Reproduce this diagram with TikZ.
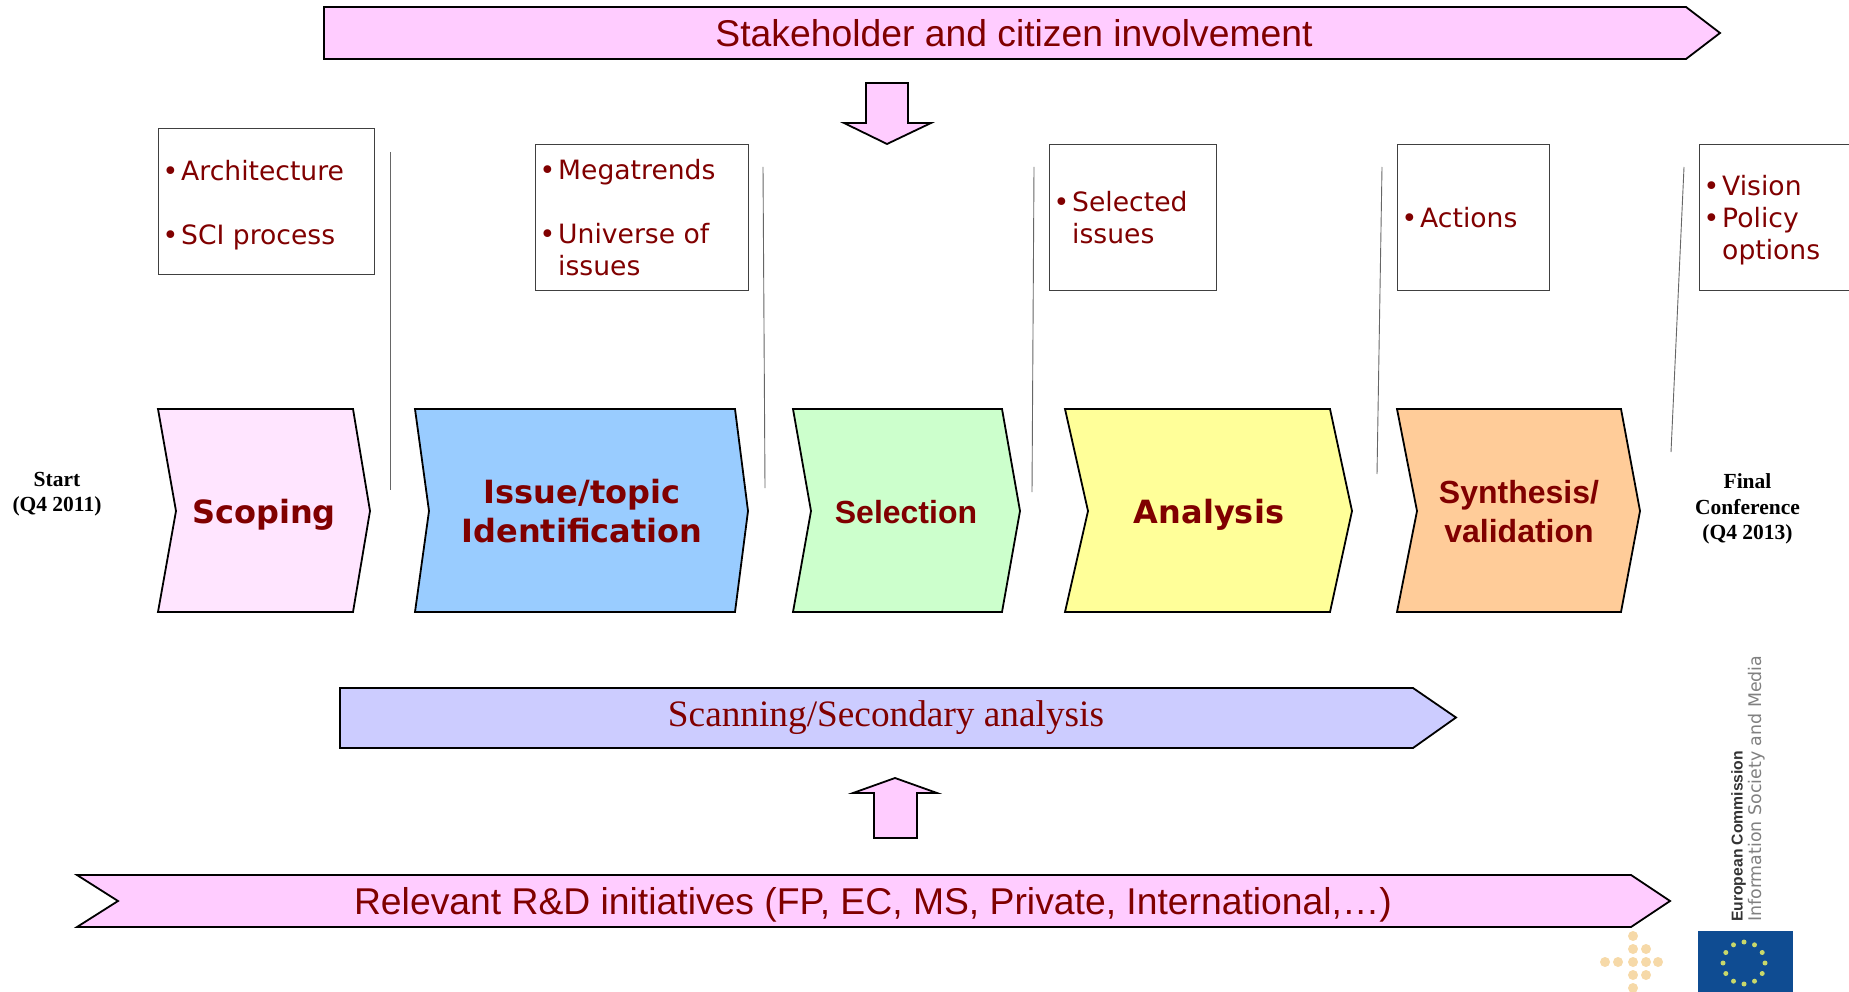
\documentclass[tikz,border=0pt]{standalone}
\usepackage{fontspec}
\setmainfont{Liberation Sans}
\newfontfamily\wideface{DejaVu Sans}
\newfontfamily\timesface{Liberation Serif}

\definecolor{clrtext}{HTML}{800000}
\definecolor{clrarrow}{HTML}{FFCCFF}
\definecolor{clrscoping}{HTML}{FFE5FF}
\definecolor{clrissue}{HTML}{99CCFF}
\definecolor{clrselection}{HTML}{CCFFCC}
\definecolor{clranalysis}{HTML}{FFFF99}
\definecolor{clrsynthesis}{HTML}{FFCC99}
\definecolor{clrscanning}{HTML}{CCCCFF}
\definecolor{clrflag}{HTML}{0F4C92}
\definecolor{clrstar}{HTML}{C8D86A}
\definecolor{clrdot}{HTML}{F6D9A8}

\tikzset{
	blockshape/.style={draw=black,line width=1.8pt,line join=miter},
	bartext/.style={text=clrtext,font=\fontsize{37.3}{40}\selectfont},
	steptext/.style={text=clrtext,align=center,yshift=-1pt,font=\fontsize{32}{39}\selectfont\bfseries},
	widetext/.style={text=clrtext,align=center,text depth=0pt,font=\fontsize{32}{39}\selectfont\wideface\bfseries},
	infobox/.style={draw=black!75,line width=1pt,anchor=north west},
	infotext/.style={anchor=west,inner xsep=0pt,inner ysep=0pt,align=left,
		text=clrtext,font=\fontsize{26.6}{32}\selectfont\wideface},
	datelabel/.style={align=center,font=\fontsize{21.5}{25.5}\selectfont\timesface\bfseries},
	divider/.style={draw=black!60,line width=0.9pt},
	logotext/.style={rotate=90,anchor=south west,inner sep=0pt},
}

\newcommand*{\itm}{\makebox[18.5pt][l]{\textbullet}}
\newcommand*{\itmgap}{\hspace*{18.5pt}}

\begin{document}
\begin{tikzpicture}[x=1pt,y=-1pt]

\useasboundingbox (0,0) rectangle (1849,992);

\def\stepy{409}
\def\stepb{612}
\def\stepm{511}
\def\boxh{146}

% \mystep{name}{left}{right}{tip}{notch}{color}{style}{middlex}{text}
\newcommand*{\mystep}[9]{
	\draw [blockshape,fill=#6] (#2,\stepy) -- (#3,\stepy) -- (#4,\stepm) -- (#3,\stepb) -- (#2,\stepb) -- (#5,\stepm) -- cycle;
	\node [#7] (#1) at (#8,\stepm) {#9};
}

% \myinfo{name}{x}{y}{width}{shiftdown}{text}
\newcommand*{\myinfo}[6]{
	\node [infobox,minimum width=#4pt,minimum height=\boxh pt] (#1) at (#2,#3) {};
	\node [infotext,xshift=4.5pt,yshift=-#5pt] (#1text) at (#1.west) {#6};
}

% \mydivider{name}{x1}{y1}{x2}{y2}
\newcommand*{\mydivider}[5]{
	\coordinate (#1a) at (#2,#3);
	\coordinate (#1b) at (#4,#5);
	\draw [divider] (#1a) -- (#1b);
}

	% bars
	\draw [blockshape,fill=clrarrow] (324,7) -- (1686,7) -- (1720,33) -- (1686,59) -- (324,59) -- cycle;
	\node [bartext] (stakeholder) at (1014,33) {Stakeholder and citizen involvement};

	\draw [blockshape,fill=clrarrow] (866,83) -- (908,83) -- (908,123) -- (931,123) -- (887,144) -- (844,123) -- (866,123) -- cycle;

	\draw [blockshape,fill=clrscanning] (340,688) -- (1413,688) -- (1456,717.5) -- (1413,748) -- (340,748) -- cycle;
	\node [text=clrtext,font=\fontsize{37.3}{40}\selectfont\timesface] (scanning) at (886,717.5) {Scanning/Secondary analysis};

	\draw [blockshape,fill=clrarrow] (874,838) -- (917,838) -- (917,793) -- (937,793) -- (895,778) -- (853,793) -- (874,793) -- cycle;

	\draw [blockshape,fill=clrarrow] (77,875) -- (1631,875) -- (1670,901) -- (1631,927) -- (77,927) -- (118,901) -- cycle;
	\node [bartext] (initiatives) at (873,905) {Relevant R\&D initiatives (FP, EC, MS, Private, International,\ldots)};

	% steps
	\mystep{scoping}{158}{353}{370}{176}{clrscoping}{widetext}{264}{Scoping}
	\mystep{issue}{415}{735}{748}{429}{clrissue}{widetext}{582}{Issue/topic\\Identification}
	\mystep{selection}{793}{1002}{1020}{811}{clrselection}{steptext}{906}{Selection}
	\mystep{analysis}{1065}{1330}{1352}{1088}{clranalysis}{widetext}{1209}{Analysis}
	\mystep{synthesis}{1397}{1621}{1640}{1417}{clrsynthesis}{steptext}{1519}{Synthesis/\\validation}

	\node [datelabel] (start) at (57,494) {Start\\(Q4 2011)};
	\node [datelabel] (final) at (1747.5,509) {Final\\Conference\\(Q4 2013)};

	% outcome boxes
	\myinfo{scopeout}{158}{128}{216}{4}{\itm Architecture\\[32pt]\itm SCI process}
	\myinfo{issueout}{535}{144}{213}{0}{\itm Megatrends\\[32pt]\itm Universe of\\\itmgap issues}
	\myinfo{selectout}{1049}{144}{167}{0}{\itm Selected\\\itmgap issues}
	\myinfo{analysisout}{1397}{144}{152}{0}{\itm Actions}
	\myinfo{synthout}{1699}{144}{165}{2.5}{\itm Vision\\\itm Policy\\\itmgap options}

	\mydivider{first}{390}{152}{390}{490}
	\mydivider{second}{763}{167}{765}{488}
	\mydivider{third}{1034}{167}{1032}{492}
	\mydivider{fourth}{1382}{167}{1377}{474}
	\mydivider{fifth}{1684}{167}{1671}{452}

	% logo
	\fill [clrflag] (1698,931) rectangle (1793,992);
	\foreach \a in {0,30,...,330}{
		\fill [clrstar] (1744,963) ++(\a:21) circle (2.5);
	}
	\foreach \x/\y in {1633/936,1633/949,1646/949,1605/962,1618/962,1633/962,1646/962,1658/962,1633/975,1646/975,1633/988}{
		\fill [clrdot] (\x,\y) circle (5);
	}
	\node [logotext,font=\fontsize{15.7}{15.7}\selectfont\bfseries,text=black!80] (commission) at (1746,922) {European Commission};
	\node [logotext,font=\fontsize{17.4}{17.4}\selectfont\wideface,text=black!50] (society) at (1765,922) {Information Society and Media};

\end{tikzpicture}
\end{document}
